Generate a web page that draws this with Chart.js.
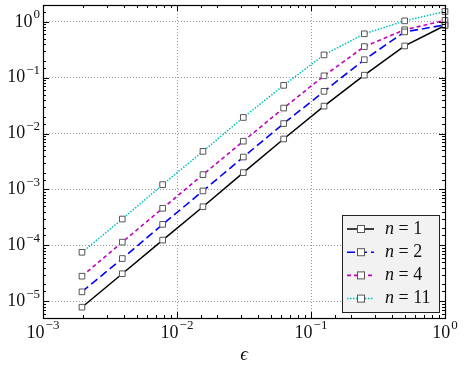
<!DOCTYPE html>
<html>
<head>
<meta charset="utf-8">
<script src="https://cdn.jsdelivr.net/npm/chart.js@4/dist/chart.umd.min.js"></script>
<style>
  html, body { margin: 0; padding: 0; background: #fff; }
  #wrap { width: 464px; height: 370px; position: relative; }
</style>
</head>
<body>
<div id="wrap"><canvas id="errChart"></canvas></div>
<script>
// 横轴 eps 取值 (2^-9 ... 2^0)
const epsValues = [0.001953125, 0.00390625, 0.0078125, 0.015625, 0.03125, 0.0625, 0.125, 0.25, 0.5, 1];

// 各 n 对应的误差
const errN1 = [7.8e-6, 3.1e-5, 1.24e-4, 4.9e-4, 2.0e-3, 8.0e-3, 3.1e-2, 0.111, 0.37, 0.86];
const errN2 = [1.47e-5, 5.8e-5, 2.37e-4, 9.4e-4, 3.8e-3, 1.51e-2, 5.7e-2, 0.21, 0.66, 0.88];
const errN4 = [2.8e-5, 1.14e-4, 4.6e-4, 1.84e-3, 7.3e-3, 2.86e-2, 0.108, 0.36, 0.72, 1.06];
const errN11 = [7.5e-5, 2.95e-4, 1.22e-3, 4.8e-3, 1.94e-2, 7.3e-2, 0.256, 0.61, 1.04, 1.53];

const seriesLabels = ['1', '2', '4', '11'];
const xTickPowers = [-3, -2, -1, 0];
const yTickPowers = [-5, -4, -3, -2, -1, 0];

const SERIF = "'Liberation Serif', 'DejaVu Serif', serif";

function isPow10(v) {
  const l = Math.log10(v);
  return Math.abs(l - Math.round(l)) < 1e-9;
}

function toPoints(ys) {
  return epsValues.map((x, i) => ({ x: x, y: ys[i] }));
}

function makeDataset(label, ys, color, dash, width) {
  return {
    label: label,
    data: toPoints(ys),
    borderColor: color,
    borderWidth: width,
    borderDash: dash,
    pointStyle: 'rect',
    pointRadius: 4,
    pointBorderWidth: 1,
    pointBorderColor: '#555',
    pointBackgroundColor: '#fff',
    pointHoverRadius: 4,
    tension: 0,
    fill: false,
    clip: false
  };
}

// 画 10^k 形式的刻度文字
function drawPowLabel(ctx, k, x, y, align) {
  const base = '10';
  const exp = k < 0 ? '\u2212' + Math.abs(k) : String(k);
  ctx.font = '18px ' + SERIF;
  const wb = ctx.measureText(base).width;
  ctx.font = '13px ' + SERIF;
  const we = ctx.measureText(exp).width;
  const total = wb + we + 1;
  let left = x;
  if (align === 'center') left = x - total / 2;
  if (align === 'right') left = x - total;
  ctx.fillStyle = '#111';
  ctx.textBaseline = 'middle';
  ctx.textAlign = 'left';
  ctx.font = '18px ' + SERIF;
  ctx.fillText(base, left, y);
  ctx.font = '13px ' + SERIF;
  ctx.fillText(exp, left + wb + 1, y - 7);
}

// 坐标框、向内刻度、刻度文字、图例
const framePlugin = {
  id: 'frame',
  afterDraw(chart) {
    const ctx = chart.ctx;
    const area = chart.chartArea;
    const xs = chart.scales.x;
    const ys = chart.scales.y;
    ctx.save();

    // 刻度线
    ctx.strokeStyle = '#000';
    ctx.lineWidth = 1;
    ctx.setLineDash([]);
    xs.ticks.forEach(t => {
      const px = Math.round(xs.getPixelForValue(t.value)) + 0.5;
      const len = isPow10(t.value) ? 6 : 3;
      ctx.beginPath();
      ctx.moveTo(px, area.bottom); ctx.lineTo(px, area.bottom - len);
      ctx.moveTo(px, area.top); ctx.lineTo(px, area.top + len);
      ctx.stroke();
    });
    ys.ticks.forEach(t => {
      const py = Math.round(ys.getPixelForValue(t.value)) + 0.5;
      const len = isPow10(t.value) ? 6 : 3;
      ctx.beginPath();
      ctx.moveTo(area.left, py); ctx.lineTo(area.left + len, py);
      ctx.moveTo(area.right, py); ctx.lineTo(area.right - len, py);
      ctx.stroke();
    });

    // 外框
    ctx.strokeStyle = '#000';
    ctx.lineWidth = 1.2;
    ctx.strokeRect(Math.round(area.left) + 0.5, Math.round(area.top) + 0.5,
      Math.round(area.right - area.left), Math.round(area.bottom - area.top));

    // 刻度文字
    xTickPowers.forEach(k => {
      drawPowLabel(ctx, k, xs.getPixelForValue(Math.pow(10, k)), area.bottom + 15, 'center');
    });
    yTickPowers.forEach(k => {
      drawPowLabel(ctx, k, area.left - 3, ys.getPixelForValue(Math.pow(10, k)), 'right');
    });

    // 横轴标题
    ctx.font = 'italic 19px ' + SERIF;
    ctx.textAlign = 'center';
    ctx.textBaseline = 'middle';
    ctx.fillStyle = '#111';
    ctx.fillText('\u03f5', (area.left + area.right) / 2, 355);

    // 图例
    const bx = 342, by = 215, bw = 97, bh = 97;
    ctx.fillStyle = '#f2f2f2';
    ctx.fillRect(bx, by, bw, bh);
    ctx.strokeStyle = '#222';
    ctx.lineWidth = 1;
    ctx.strokeRect(bx + 0.5, by + 0.5, bw, bh);
    chart.data.datasets.forEach((ds, i) => {
      const ry = by + 14 + i * 23.2;
      ctx.strokeStyle = ds.borderColor;
      ctx.lineWidth = ds.borderWidth;
      ctx.setLineDash(ds.borderDash || []);
      ctx.beginPath();
      ctx.moveTo(347, ry); ctx.lineTo(374, ry);
      ctx.stroke();
      ctx.setLineDash([]);
      ctx.fillStyle = '#fff';
      ctx.fillRect(357, ry - 3.5, 7, 7);
      ctx.strokeStyle = '#555';
      ctx.lineWidth = 1;
      ctx.strokeRect(357.5, ry - 3.5, 7, 7);

      ctx.fillStyle = '#111';
      ctx.textAlign = 'left';
      ctx.textBaseline = 'middle';
      ctx.font = 'italic 18px ' + SERIF;
      ctx.fillText('n', 385, ry);
      const wn = ctx.measureText('n').width;
      ctx.font = '18px ' + SERIF;
      ctx.fillText(' = ' + seriesLabels[i], 385 + wn, ry);
    });

    ctx.restore();
  }
};

document.addEventListener('DOMContentLoaded', function() {
  const ctx = document.getElementById('errChart').getContext('2d');
  new Chart(ctx, {
    type: 'line',
    data: {
      datasets: [
        makeDataset('n = 1', errN1, '#000000', [], 1.5),
        makeDataset('n = 2', errN2, '#0000ff', [8, 4], 1.6),
        makeDataset('n = 4', errN4, '#bf00bf', [4, 3], 1.6),
        makeDataset('n = 11', errN11, '#00bfbf', [1.5, 1.5], 1.5)
      ]
    },
    options: {
      responsive: true,
      maintainAspectRatio: false,
      animation: false,
      events: [],
      layout: { padding: { left: 0, right: 19, top: 5, bottom: 0 } },
      plugins: {
        legend: { display: false },
        tooltip: { enabled: false }
      },
      scales: {
        x: {
          type: 'logarithmic',
          min: 0.001,
          max: 1,
          ticks: { display: false, autoSkip: false },
          grid: {
            drawTicks: false,
            color: c => (c.tick && isPow10(c.tick.value)) ? '#999' : 'rgba(0,0,0,0)',
            lineWidth: 1
          },
          border: { display: false, dash: [1, 2] },
          afterFit: s => { s.height = 52; }
        },
        y: {
          type: 'logarithmic',
          min: 5e-6,
          max: 2,
          ticks: { display: false, autoSkip: false },
          grid: {
            drawTicks: false,
            color: c => (c.tick && isPow10(c.tick.value)) ? '#999' : 'rgba(0,0,0,0)',
            lineWidth: 1
          },
          border: { display: false, dash: [1, 2] },
          afterFit: s => { s.width = 43; }
        }
      }
    },
    plugins: [framePlugin]
  });
});
</script>
</body>
</html>
